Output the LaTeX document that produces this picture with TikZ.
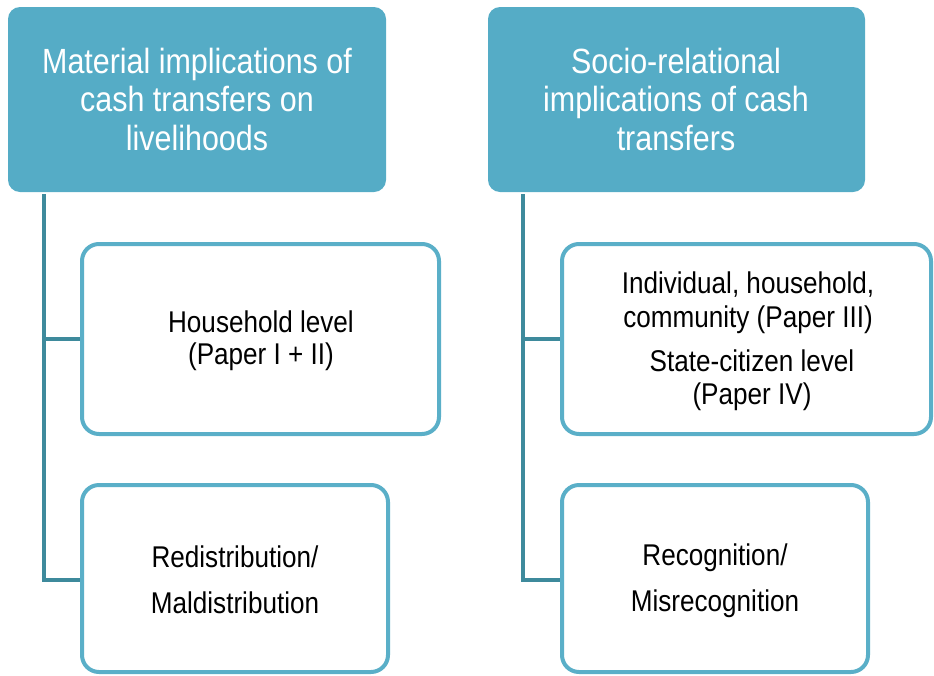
\documentclass[tikz,border=0pt]{standalone}
\usepackage{fontspec}
\setmainfont{Liberation Sans}[FakeStretch=0.87]
\definecolor{headfill}{HTML}{55ACC6}
\definecolor{boxline}{HTML}{5AAFC8}
\definecolor{branch}{HTML}{3E8A9C}
\tikzset{
  head/.style={draw=none, fill=headfill, rounded corners=12pt},
  headtext/.style={text=white, font=\fontsize{35}{38.5}\selectfont, align=center},
  leaf/.style={draw=boxline, line width=4pt, fill=white, rounded corners=17pt},
  leaftext/.style={font=\fontsize{30}{33}\selectfont, align=center},
  tree/.style={draw=branch, line width=4.5pt},
}
\begin{document}
\begin{tikzpicture}[x=1pt,y=-1pt]
\useasboundingbox (0,0) rectangle (934,675);
% branch lines
\draw[tree] (44,194) -- (44,580) -- (80,580);
\draw[tree] (44,339) -- (80,339);
\draw[tree] (523,194) -- (523,580) -- (560,580);
\draw[tree] (523,339) -- (560,339);
% header boxes
\path[head] (8,7) rectangle (386,192);
\node[headtext] (h1) at (197,99)
  {Material implications of\\cash transfers on\\livelihoods};
\path[head] (488,7) rectangle (865,192);
\node[headtext] (h2) at (676,99)
  {Socio-relational\\implications of cash\\transfers};
% leaf boxes
\draw[leaf] (82,244) rectangle (439,434);
\node[leaftext, font=\fontsize{30}{32}\selectfont] (l1) at (261,341)
  {Household level\\(Paper I + II)};
\draw[leaf] (82,485) rectangle (388,672);
\node[leaftext, font=\fontsize{30}{46}\selectfont] (l2) at (235,580)
  {Redistribution/\\Maldistribution};
\draw[leaf] (562,244) rectangle (931,434);
\node[leaftext, font=\fontsize{30}{34}\selectfont] (r1) at (748,303)
  {Individual, household,\\community (Paper III)};
\node[leaftext, font=\fontsize{30}{33}\selectfont] (r2) at (752,380)
  {State-citizen level\\(Paper IV)};
\draw[leaf] (562,485) rectangle (868,672);
\node[leaftext, font=\fontsize{30}{46}\selectfont] (r3) at (715,581)
  {Recognition/\\Misrecognition};
\end{tikzpicture}
\end{document}
